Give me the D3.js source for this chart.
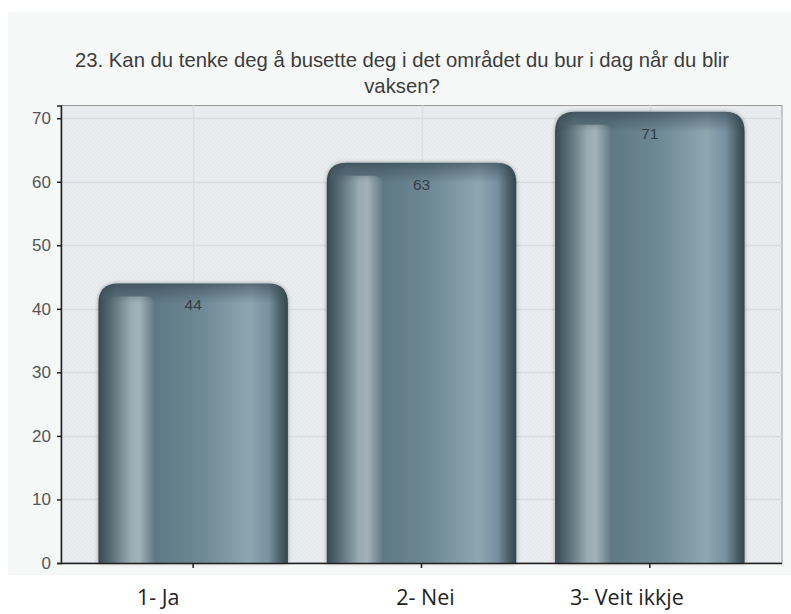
<!DOCTYPE html>
<html>
<head>
<meta charset="utf-8">
<script src="https://cdn.jsdelivr.net/npm/d3@7"></script>
<style>
  html, body { margin: 0; padding: 0; background: #ffffff; }
  svg { display: block; }
</style>
</head>
<body>
<svg id="chart" width="791" height="614"></svg>
<script>
// ---- data ----
const categories = ["1- Ja", "2- Nei", "3- Veit ikkje"];
const values = [44, 63, 71];
const yTicks = [0, 10, 20, 30, 40, 50, 60, 70];
const titleLines = ["23. Kan du tenke deg å busette deg i det området du bur i dag når du blir", "vaksen?"];

// ---- layout ----
const W = 791, H = 614;
const plot = { left: 61, right: 782, top: 105.5, bottom: 563 };
const svg = d3.select("#chart");
const defs = svg.append("defs");

// panel background
svg.append("rect").attr("x", 8).attr("y", 12).attr("width", W - 8).attr("height", 575 - 12)
  .attr("fill", "#f6f8f8");

// plot background pattern (fine hatch)
const pat = defs.append("pattern").attr("id", "hatch").attr("width", 4).attr("height", 4)
  .attr("patternUnits", "userSpaceOnUse");
pat.append("rect").attr("width", 4).attr("height", 4).attr("fill", "#e9edef");
pat.append("path").attr("d", "M0,4 L4,0").attr("stroke", "#e2e6e8").attr("stroke-width", 0.8);

svg.append("rect").attr("x", plot.left).attr("y", plot.top)
  .attr("width", plot.right - plot.left).attr("height", plot.bottom - plot.top)
  .attr("fill", "url(#hatch)").attr("stroke", "#9a9a9a").attr("stroke-width", 1);

// scales
const y = d3.scaleLinear().domain([0, 72]).range([plot.bottom, plot.top]);
const x = d3.scaleBand().domain(categories).range([79, 764]).paddingInner(0.17).paddingOuter(0.085);

// grid
const g = svg.append("g");
g.selectAll("line.hg").data(yTicks.filter(d => d > 0)).join("line")
  .attr("x1", plot.left).attr("x2", plot.right)
  .attr("y1", d => Math.round(y(d)) + 0.5).attr("y2", d => Math.round(y(d)) + 0.5)
  .attr("stroke", "#d9dcdd").attr("stroke-width", 1.5);
g.selectAll("line.vg").data(categories).join("line")
  .attr("y1", plot.top).attr("y2", plot.bottom)
  .attr("x1", d => Math.round(x(d) + x.bandwidth() / 2) + 0.5)
  .attr("x2", d => Math.round(x(d) + x.bandwidth() / 2) + 0.5)
  .attr("stroke", "#dcdfe0").attr("stroke-width", 1.5);

// gradients
const body = defs.append("linearGradient").attr("id", "body").attr("x1", 0).attr("x2", 1).attr("y1", 0).attr("y2", 0);
[[0, "#34474f"], [0.03, "#4a6069"], [0.1, "#5d7480"], [0.3, "#5f7884"], [0.55, "#6f8995"],
 [0.8, "#8ea6b1"], [0.9, "#7890a0"], [0.96, "#4a6068"], [1, "#34464d"]]
  .forEach(s => body.append("stop").attr("offset", s[0]).attr("stop-color", s[1]));

const col = defs.append("linearGradient").attr("id", "col").attr("x1", 0).attr("x2", 1).attr("y1", 0).attr("y2", 0);
[[0, "#3d5159"], [0.2, "#5b6f78"], [0.55, "#9aabb2"], [0.7, "#a3b2b8"], [0.88, "#7a8f98"], [1, "#5f7682"]]
  .forEach(s => col.append("stop").attr("offset", s[0]).attr("stop-color", s[1]));

const cap = defs.append("linearGradient").attr("id", "cap").attr("x1", 0).attr("x2", 0).attr("y1", 0).attr("y2", 1);
[[0, "#2c3e45", 0.55], [0.5, "#34474f", 0.3], [1, "#34474f", 0]]
  .forEach(s => cap.append("stop").attr("offset", s[0]).attr("stop-color", s[1]).attr("stop-opacity", s[2]));

const shadow = defs.append("filter").attr("id", "shadow").attr("x", "-10%").attr("y", "-10%").attr("width", "120%").attr("height", "120%");
shadow.append("feGaussianBlur").attr("in", "SourceAlpha").attr("stdDeviation", 2).attr("result", "b");
shadow.append("feOffset").attr("in", "b").attr("dx", 0).attr("dy", 0).attr("result", "o");
shadow.append("feComponentTransfer").attr("in", "o").attr("result", "s")
  .append("feFuncA").attr("type", "linear").attr("slope", 0.35);
const m = shadow.append("feMerge");
m.append("feMergeNode").attr("in", "s");
m.append("feMergeNode").attr("in", "SourceGraphic");

function topRounded(x0, y0, w, h, r) {
  return `M${x0},${y0 + h} L${x0},${y0 + r} Q${x0},${y0} ${x0 + r},${y0} L${x0 + w - r},${y0} Q${x0 + w},${y0} ${x0 + w},${y0 + r} L${x0 + w},${y0 + h} Z`;
}

const bars = svg.append("g").selectAll("g.bar").data(categories.map((c, i) => ({ c, v: values[i] }))).join("g");
bars.each(function (d) {
  const gg = d3.select(this);
  const x0 = x(d.c), w = x.bandwidth(), y0 = y(d.v), h = y(0) - y(d.v);
  gg.append("path").attr("d", topRounded(x0, y0, w, h, 20)).attr("fill", "url(#body)").attr("filter", "url(#shadow)");
  const cx0 = x0 + w * 0.015, cw = w * 0.285, cy0 = y0 + 13;
  gg.append("path").attr("d", topRounded(cx0, cy0, cw, y(0) - cy0, 10)).attr("fill", "url(#col)");
  gg.append("path").attr("d", topRounded(x0, y0, w, 20, 20)).attr("fill", "url(#cap)");
  gg.append("text").attr("x", x0 + w / 2).attr("y", y0 + 27)
    .attr("text-anchor", "middle").attr("font-family", "Liberation Sans, Arial, sans-serif")
    .attr("font-size", 15.5).attr("fill", "#323f45").text(d.v);
});

// y axis
const yAxis = svg.append("g").attr("transform", `translate(${plot.left},0)`)
  .call(d3.axisLeft(y).tickValues(yTicks).tickSize(4).tickPadding(6));
yAxis.select(".domain").attr("stroke", "#222").attr("stroke-width", 1.5);
yAxis.selectAll(".tick line").attr("stroke", "#222").attr("stroke-width", 1.5);
yAxis.selectAll("text").attr("font-family", "Liberation Sans, Arial, sans-serif").attr("font-size", 17).attr("fill", "#555");

// x axis line + ticks
const xAxis = svg.append("g").attr("transform", `translate(0,${plot.bottom})`)
  .call(d3.axisBottom(x).tickSize(5).tickFormat(""));
xAxis.select(".domain").attr("d", `M${plot.left},0.5H${plot.right}`).attr("stroke", "#222").attr("stroke-width", 1.5);
xAxis.selectAll(".tick line").attr("stroke", "#222").attr("stroke-width", 1.5);

// category labels (below the chart panel)
const labelNudge = [-35, 4, -23];
svg.append("g").selectAll("text").data(categories).join("text")
  .attr("x", (d, i) => x(d) + x.bandwidth() / 2 + labelNudge[i])
  .attr("y", 605)
  .attr("text-anchor", "middle")
  .attr("font-family", "Open Sans, DejaVu Sans, sans-serif")
  .attr("font-size", 21.5).attr("fill", "#222").text(d => d);

// title
svg.append("g").selectAll("text").data(titleLines).join("text")
  .attr("x", 402).attr("y", (d, i) => 67 + i * 26)
  .attr("text-anchor", "middle")
  .attr("font-family", "Liberation Sans, Arial, sans-serif")
  .attr("font-size", 20.3).attr("fill", "#3c3c3c").text(d => d);
</script>
</body>
</html>
